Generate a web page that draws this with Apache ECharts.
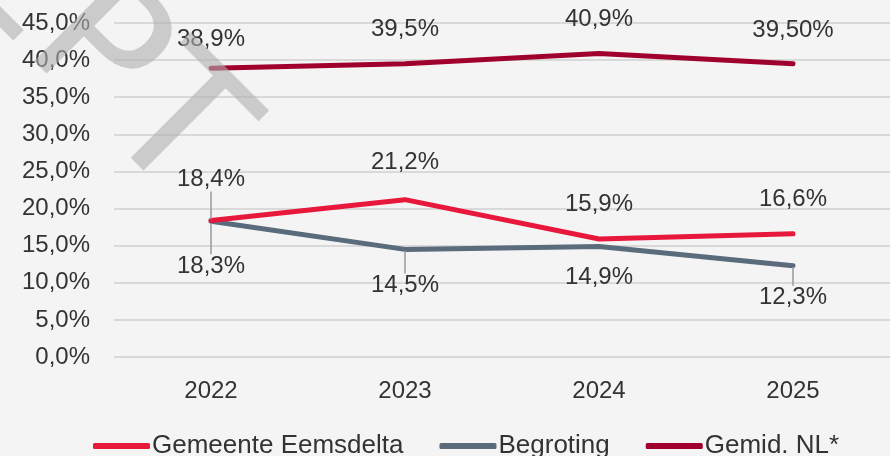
<!DOCTYPE html>
<html>
<head>
<meta charset="utf-8">
<script src="https://cdn.jsdelivr.net/npm/echarts@6/dist/echarts.min.js"></script>
<style>
  html, body { margin: 0; padding: 0; background: #f4f4f4; }
  #chart { width: 890px; height: 456px; }
</style>
</head>
<body>
<div id="chart"></div>
<script>
var years = ['2022', '2023', '2024', '2025'];
var eemsdelta = [18.4, 21.2, 15.9, 16.6];
var begroting = [18.3, 14.5, 14.9, 12.3];
var gemidNL = [38.9, 39.5, 40.9, 39.5];
var gemidNLLabels = ['38,9%', '39,5%', '40,9%', '39,50%'];

var FONT = '"Liberation Sans", Arial, sans-serif';
var TXT = '#333333';

function pct(v) {
  return v.toFixed(1).replace('.', ',') + '%';
}

// label offsets (px) per point, label moved away from the line
var eemsDy = [-41, -37, -35, -34];
var begrDy = [45, 36, 31, 32];
var nlDy = [-29, -34, -34, -33];
var eemsLeader = [true, false, false, false];
var begrLeader = [true, true, false, true];

function makeLayout(dys) {
  return function (p) {
    return { dy: dys[p.dataIndex] };
  };
}

function labelled(values, leaders, fmt) {
  return values.map(function (v, i) {
    return {
      value: v,
      label: { formatter: fmt ? fmt[i] : pct(v) },
      labelLine: { show: leaders ? leaders[i] : false }
    };
  });
}

function lineSeries(name, color, data, dys, z) {
  return {
    name: name,
    type: 'line',
    data: data,
    symbol: 'circle',
    symbolSize: 2,
    showSymbol: true,
    color: color,
    lineStyle: { width: 5, cap: 'round' },
    label: {
      show: true, position: 'inside', fontFamily: FONT, fontSize: 24, color: TXT
    },
    labelLayout: makeLayout(dys),
    labelLine: { lineStyle: { color: '#9a9a9a', width: 1.5 } },
    z: z
  };
}

var chart = echarts.init(document.getElementById('chart'));
var option = {
  backgroundColor: '#f4f4f4',
  animation: false,
  textStyle: { fontFamily: FONT },
  grid: { left: 114, right: 0, top: 23, bottom: 99 },
  legend: {
    top: 428,
    left: 88,
    itemWidth: 57,
    itemHeight: 6,
    itemGap: 36,
    icon: 'roundRect',
    textStyle: { fontFamily: FONT, fontSize: 26, color: TXT, padding: [0, 0, 0, -3] },
    data: ['Gemeente Eemsdelta', 'Begroting', 'Gemid. NL*']
  },
  xAxis: {
    type: 'category',
    data: years,
    axisLine: { show: false },
    axisTick: { show: false },
    axisLabel: { fontFamily: FONT, fontSize: 24, color: TXT, margin: 22 }
  },
  yAxis: {
    type: 'value',
    min: 0,
    max: 45,
    interval: 5,
    axisLine: { show: false },
    axisTick: { show: false },
    splitLine: { lineStyle: { color: '#d9d9d9', width: 2 } },
    axisLabel: {
      fontFamily: FONT, fontSize: 24, color: TXT, margin: 24,
      formatter: function (v) { return pct(v); }
    }
  },
  graphic: [{
    type: 'text',
    z: 100,
    x: 209,
    y: 170,
    rotation: -Math.PI / 4,
    style: {
      text: 'CONCEPT',
      fontFamily: '"DejaVu Sans", sans-serif',
      fontSize: 180,
      fill: 'rgba(175,175,175,0.6)',
      textAlign: 'right',
      textVerticalAlign: 'middle'
    }
  }],
  series: [
    lineSeries('Gemeente Eemsdelta', '#e8183c', labelled(eemsdelta, eemsLeader), eemsDy, 3),
    lineSeries('Begroting', '#5a6b7c', labelled(begroting, begrLeader), begrDy, 2),
    lineSeries('Gemid. NL*', '#a0002c', labelled(gemidNL, null, gemidNLLabels), nlDy, 2)
  ]
};
chart.setOption(option);
</script>
</body>
</html>
